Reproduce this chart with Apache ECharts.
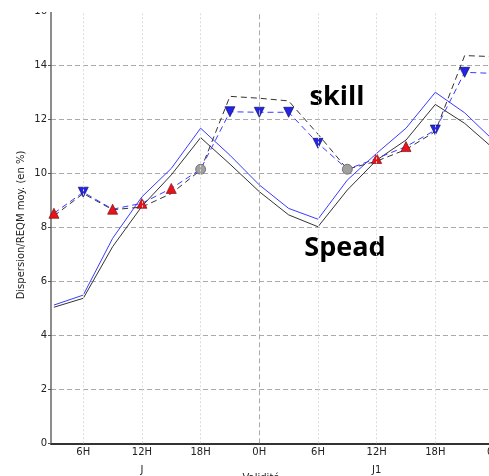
<!DOCTYPE html>
<html>
<head>
<meta charset="utf-8">
<script src="https://cdn.jsdelivr.net/npm/echarts@6/dist/echarts.min.js"></script>
<style>
  html, body { margin: 0; padding: 0; background: #fff; }
  #chart { width: 489px; height: 476px; }
</style>
</head>
<body>
<div id="chart"></div>
<script>
// Forecast lead time in hours (every 3 h over two days)
const hours = [3, 6, 9, 12, 15, 18, 21, 24, 27, 30, 33, 36, 39, 42, 45, 48];

// Ensemble spread (solid lines), in %
const spreadRef = [5.04, 5.37, 7.28, 8.78, 9.94, 11.32, 10.34, 9.32, 8.46, 8.02, 9.38, 10.49, 11.23, 12.55, 11.85, 10.9];
const spreadExp = [5.12, 5.49, 7.59, 9.13, 10.18, 11.67, 10.67, 9.57, 8.70, 8.30, 9.75, 10.74, 11.67, 13.0, 12.24, 11.2];

// RMSE of the ensemble mean (dashed lines), in %
const rmseRef = [8.42, 9.25, 8.65, 8.75, 9.25, 10.12, 12.85, 12.78, 12.68, 11.45, 10.15, 10.45, 10.88, 11.55, 14.36, 14.32];
const rmseExp = [8.52, 9.3, 8.67, 8.89, 9.44, 10.15, 12.28, 12.26, 12.26, 11.11, 10.15, 10.55, 10.99, 11.6, 13.74, 13.70];

// Significance of the difference at each lead time: better / worse / neutral / none
const signif = ['better', 'worse', 'better', 'better', 'better', 'neutral', 'worse', 'worse', 'worse', 'worse', 'neutral', 'better', 'better', 'worse', 'worse', 'none'];

// Tick positions and labels of the time axis
const tickHours = [6, 12, 18, 24, 30, 36, 42, 48];
const dayNames = { 12: 'J', 36: 'J1' };

const yTitle = 'Dispersion/REQM moy. (en %)';
const xTitle = 'Validité';

const BLUE = '#3a3aff';
const BLACK = '#333333';

const markerStyles = {
  better: { symbol: 'triangle', symbolRotate: 0, symbolSize: 10, itemStyle: { color: '#e8141c', borderColor: '#7a1010', borderWidth: 0.7 } },
  worse: { symbol: 'triangle', symbolRotate: 180, symbolSize: 10, itemStyle: { color: '#2424e6', borderColor: '#10106a', borderWidth: 0.7 } },
  neutral: { symbol: 'circle', symbolRotate: 0, symbolSize: 10, itemStyle: { color: '#a0a0a0', borderColor: '#555', borderWidth: 0.7 } },
  none: { symbol: 'none' }
};

const pairs = (vals) => hours.map((h, i) => [h, vals[i]]);

const expSkillData = hours.map((h, i) => Object.assign({ value: [h, rmseExp[i]] }, markerStyles[signif[i]]));

const vGrid = tickHours.map(h => ({
  xAxis: h,
  lineStyle: h % 24 === 0
    ? { color: '#aaaaaa', type: [5, 3], width: 1 }
    : { color: '#dcdcdc', type: [2, 2], width: 1 }
}));

const chart = echarts.init(document.getElementById('chart'), null, { renderer: 'canvas' });

chart.setOption({
  animation: false,
  backgroundColor: '#ffffff',
  grid: { left: 51, top: 11.3, width: 443, height: 432, containLabel: false, outerBoundsMode: 'none' },
  xAxis: {
    type: 'value',
    min: 2.7,
    max: 48,
    axisLine: { show: true, onZero: false, lineStyle: { color: '#333', width: 2 } },
    axisTick: { show: false },
    splitLine: { show: false },
    axisLabel: {
      customValues: tickHours,
      margin: 0,
      fontFamily: 'DejaVu Sans',
      fontSize: 10,
      lineHeight: 18,
      color: '#222',
      formatter: (v) => {
        const lab = (v % 24) + 'H';
        return dayNames[v] ? lab + '\n' + dayNames[v] : lab;
      }
    }
  },
  yAxis: {
    type: 'value',
    min: 0,
    max: 16,
    interval: 2,
    axisLine: { show: true, lineStyle: { color: '#666', width: 1.5 } },
    axisTick: { show: true, length: 3, lineStyle: { color: '#555' } },
    axisLabel: { margin: 4, fontFamily: 'DejaVu Sans', fontSize: 10, color: '#222' },
    splitLine: { show: true, lineStyle: { color: '#aaaaaa', type: [5, 3], width: 1 } }
  },
  series: [
    {
      name: 'grid',
      type: 'line',
      data: [],
      silent: true,
      markLine: { silent: true, symbol: 'none', label: { show: false }, data: vGrid, animation: false }
    },
    {
      name: 'spreadRef', type: 'line', data: pairs(spreadRef), symbol: 'none',
      lineStyle: { color: BLACK, width: 1 }, z: 3
    },
    {
      name: 'spreadExp', type: 'line', data: pairs(spreadExp), symbol: 'none',
      lineStyle: { color: BLUE, width: 1 }, z: 3
    },
    {
      name: 'rmseRef', type: 'line', data: pairs(rmseRef), symbol: 'none',
      lineStyle: { color: BLACK, width: 1, type: [6, 4] }, z: 3
    },
    {
      name: 'rmseExp', type: 'line', data: expSkillData, showAllSymbol: true,
      lineStyle: { color: BLUE, width: 1, type: [6, 4] }, z: 4
    }
  ],
  graphic: [
    { type: 'rect', shape: { x: 0, y: 0, width: 489, height: 12 }, style: { fill: '#ffffff' }, z: 100 },
    {
      type: 'text', x: 21.5, y: 225, rotation: Math.PI / 2,
      style: { text: yTitle, fontFamily: 'DejaVu Sans', fontSize: 10, fill: '#222', align: 'center', verticalAlign: 'middle' }
    },
    {
      type: 'text', x: 261, y: 473,
      style: { text: xTitle, fontFamily: 'DejaVu Sans', fontSize: 10, fill: '#222', align: 'center', verticalAlign: 'top' }
    },
    {
      type: 'text', x: 337, y: 97.5,
      style: { text: 'skill', fontFamily: 'Open Sans', fontWeight: 'bold', fontSize: 27, fill: '#000', align: 'center', verticalAlign: 'middle' }
    },
    {
      type: 'text', x: 345, y: 248.5,
      style: { text: 'Spead', fontFamily: 'Open Sans', fontWeight: 'bold', fontSize: 27, fill: '#000', align: 'center', verticalAlign: 'middle' }
    }
  ]
});
</script>
</body>
</html>
